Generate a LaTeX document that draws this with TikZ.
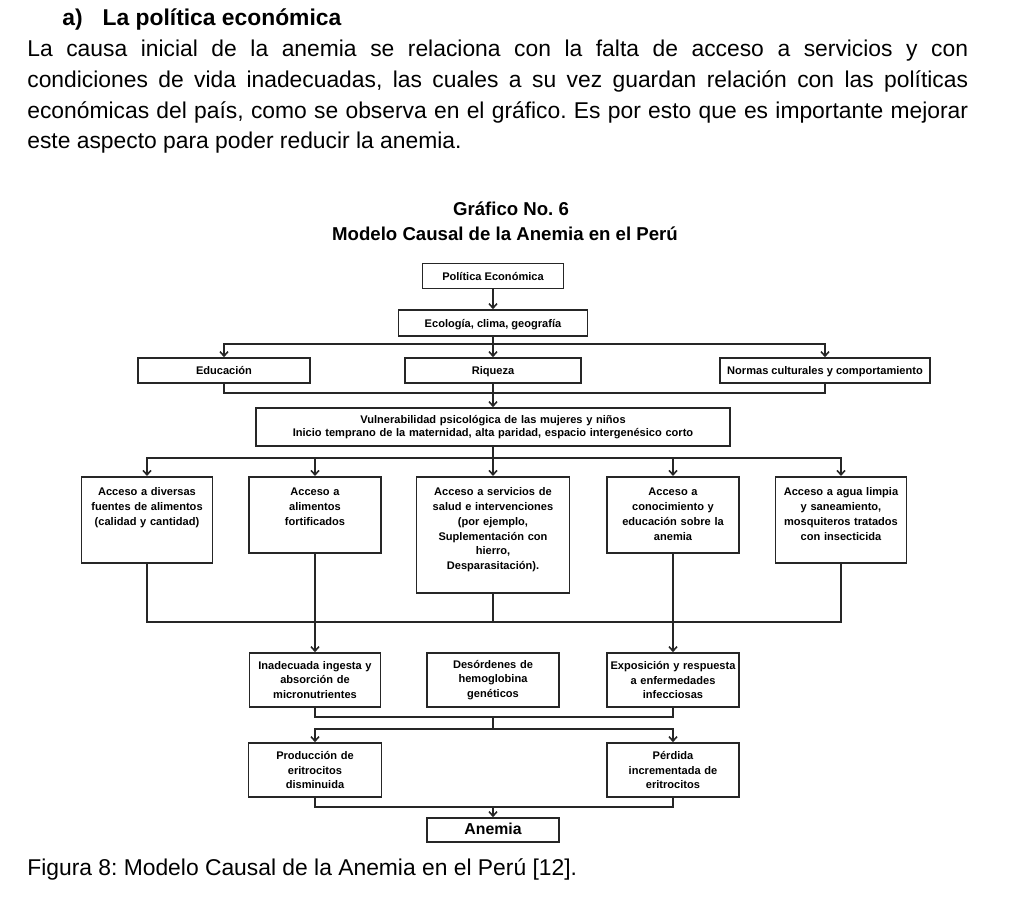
\documentclass[tikz,border=0pt]{standalone}
\usepackage{fontspec}
\setmainfont{Liberation Sans}
\usetikzlibrary{arrows.meta}
\frenchspacing

\newcommand{\cajafont}{\bfseries\fontsize{6.3}{8.4}\selectfont}

\begin{document}
\begin{tikzpicture}[x=0.02cm, y=-0.02cm,
    caja/.style={draw=black!85, line width=0.9pt, inner xsep=0pt, inner ysep=0pt, align=center, font=\cajafont},
    simple/.style={caja, text height=0.72em, text depth=0.22em},
    acceso/.style={caja, anchor=north, text height=0.38cm},
    flecha/.style={-{Straight Barb[length=2.5pt,width=4.5pt]}, line width=0.9pt, draw=black!85},
    linea/.style={line width=0.9pt, draw=black!85}]
  \useasboundingbox (0,0) rectangle (1015,922);
  %texto de la pagina
  \node[anchor=base west, inner sep=0pt, font=\bfseries\fontsize{13}{16}\selectfont] (subtit) at (62,26) {a)\hspace{0.4cm}La política económica};
  \node[anchor=north west, inner sep=0pt, text width=18.82cm, align=justify, font=\fontsize{13}{17.45}\selectfont] (parr) at (27,40)
    {La causa inicial de la anemia se relaciona con la falta de acceso a servicios y con\linebreak
     condiciones de vida inadecuadas, las cuales a su vez guardan relación con las políticas\linebreak
     económicas del país, como se observa en el gráfico. Es por esto que es importante mejorar\linebreak
     este aspecto para poder reducir la anemia.};
  \node[anchor=base west, inner sep=0pt, font=\fontsize{13}{16}\selectfont] (fig) at (27,875) {Figura 8: Modelo Causal de la Anemia en el Perú [12].};

  %titulo del grafico
  \node[anchor=base, inner sep=0pt, font=\bfseries\fontsize{10.6}{12}\selectfont] (graf) at (511,216) {Gráfico No. 6};
  \node[anchor=base, inner sep=0pt, font=\bfseries\fontsize{10.6}{12}\selectfont] (modelo) at (505,241) {Modelo Causal de la Anemia en el Perú};

  %cajas
  \node[simple, minimum width=2.82cm, minimum height=0.5cm] (pol) at (493,276) {Política Económica};
  \node[simple, minimum width=3.78cm, minimum height=0.52cm] (eco) at (493,323) {Ecología, clima, geografía};
  \node[simple, minimum width=3.44cm, minimum height=0.5cm] (edu) at (224,370.5) {Educación};
  \node[simple, minimum width=3.52cm, minimum height=0.5cm] (riq) at (493,370.5) {Riqueza};
  \node[simple, minimum width=4.2cm, minimum height=0.5cm] (nor) at (825,370.5) {Normas culturales y comportamiento};
  \node[caja, text width=9.48cm, minimum height=0.76cm, font=\bfseries\fontsize{6.3}{7.4}\selectfont] (vul) at (493,427)
    {Vulnerabilidad psicológica de las mujeres y niños\\Inicio temprano de la maternidad, alta paridad, espacio intergenésico corto};

  \node[acceso, text width=2.62cm, text depth=1.34cm] (a1) at (147,476) {Acceso a diversas\\fuentes de alimentos\\(calidad y cantidad)};
  \node[acceso, text width=2.64cm, text depth=1.14cm] (a2) at (315,476) {Acceso a\\alimentos\\fortificados};
  \node[acceso, text width=3.06cm, text depth=1.94cm] (a3) at (493,476) {Acceso a servicios de\\salud e intervenciones\\(por ejemplo,\\Suplementación con\\hierro,\\Desparasitación).};
  \node[acceso, text width=2.64cm, text depth=1.14cm] (a4) at (673,476) {Acceso a\\conocimiento y\\educación sobre la\\anemia};
  \node[acceso, text width=2.62cm, text depth=1.34cm] (a5) at (841,476) {Acceso a agua limpia\\y saneamiento,\\mosquiteros tratados\\con insecticida};

  \node[caja, text width=2.62cm, minimum height=1.08cm] (ina) at (315,680) {Inadecuada ingesta y\\absorción de\\micronutrientes};
  \node[caja, text width=2.64cm, minimum height=1.08cm] (des) at (493,680) {Desórdenes de\\hemoglobina\\genéticos};
  \node[caja, text width=2.64cm, minimum height=1.08cm] (exp) at (673,680) {Exposición y respuesta\\a enfermedades\\infecciosas};
  \node[caja, text width=2.66cm, minimum height=1.08cm] (pro) at (315,770) {Producción de\\eritrocitos\\disminuida};
  \node[caja, text width=2.64cm, minimum height=1.08cm] (per) at (673,770) {Pérdida\\incrementada de\\eritrocitos};
  \node[simple, minimum width=2.64cm, minimum height=0.48cm, font=\bfseries\fontsize{9}{10}\selectfont] (ane) at (493,830) {Anemia};

  %puntos de union
  \coordinate (s1) at (493,344);
  \coordinate (j1) at (493,393);
  \coordinate (s2) at (493,458);
  \coordinate (j2) at (493,622);
  \coordinate (j3) at (493,717);
  \coordinate (s3) at (493,729);
  \coordinate (j4) at (493,807);

  %conectores
  \draw[flecha] (pol) -- (eco);
  \draw[flecha] (eco) -- (riq);
  \draw[flecha] (s1) -| (edu);
  \draw[flecha] (s1) -| (nor);
  \draw[linea] (edu) |- (j1) -| (nor);
  \draw[flecha] (riq) -- (vul);
  \draw[flecha] (vul) -- (a3);
  \draw[flecha] (s2) -| (a1);
  \draw[flecha] (s2) -| (a2);
  \draw[flecha] (s2) -| (a4);
  \draw[flecha] (s2) -| (a5);
  \draw[linea] (a1) |- (j2) -| (a5);
  \draw[linea] (a3) -- (j2);
  \draw[flecha] (a2) -- (ina);
  \draw[flecha] (a4) -- (exp);
  \draw[linea] (ina) |- (j3) -| (exp);
  \draw[linea] (j3) -- (s3);
  \draw[flecha] (s3) -| (pro);
  \draw[flecha] (s3) -| (per);
  \draw[linea] (pro) |- (j4) -| (per);
  \draw[flecha] (j4) -- (ane);
\end{tikzpicture}
\end{document}
